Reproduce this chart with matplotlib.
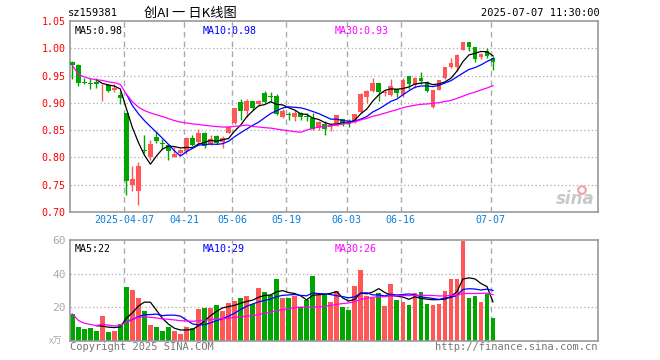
import matplotlib
matplotlib.use('Agg')
import matplotlib.pyplot as plt
import pandas as pd

# ---- data (index 0 = 2025-03-24 ... 70 = 2025-07-07) ----
opens = [0.974, 0.969, 0.938, 0.936, 0.938, 0.934, 0.933, 0.923, 0.914, 0.881,
         0.749, 0.738, 0.813, 0.800, 0.838, 0.827, 0.823, 0.801, 0.808, 0.811,
         0.836, 0.828, 0.845, 0.825, 0.839, 0.828, 0.845, 0.863, 0.902, 0.885,
         0.904, 0.897, 0.918, 0.912, 0.912, 0.874, 0.879, 0.875, 0.881, 0.876,
         0.872, 0.854, 0.862, 0.855, 0.858, 0.871, 0.865, 0.865, 0.883, 0.910,
         0.922, 0.936, 0.918, 0.915, 0.925, 0.917, 0.949, 0.932, 0.946, 0.939,
         0.892, 0.924, 0.945, 0.966, 0.966, 0.997, 1.011, 1.002, 0.984, 0.995,
         0.983]
highs = [0.977, 0.971, 0.946, 0.945, 0.945, 0.935, 0.934, 0.935, 0.921, 0.881,
         0.785, 0.792, 0.841, 0.832, 0.847, 0.834, 0.824, 0.820, 0.815, 0.837,
         0.841, 0.853, 0.846, 0.842, 0.841, 0.839, 0.856, 0.890, 0.907, 0.907,
         0.904, 0.906, 0.922, 0.919, 0.916, 0.888, 0.884, 0.886, 0.883, 0.882,
         0.882, 0.866, 0.866, 0.864, 0.878, 0.871, 0.871, 0.880, 0.918, 0.924,
         0.945, 0.937, 0.924, 0.943, 0.926, 0.945, 0.949, 0.948, 0.957, 0.940,
         0.924, 0.942, 0.965, 0.983, 0.990, 1.012, 1.012, 1.003, 0.991, 1.001,
         0.985]
lows = [0.944, 0.931, 0.934, 0.925, 0.927, 0.904, 0.920, 0.920, 0.898, 0.732,
        0.738, 0.712, 0.809, 0.795, 0.827, 0.816, 0.796, 0.800, 0.805, 0.806,
        0.821, 0.822, 0.818, 0.822, 0.825, 0.818, 0.844, 0.862, 0.869, 0.874,
        0.886, 0.894, 0.900, 0.901, 0.878, 0.872, 0.868, 0.866, 0.869, 0.866,
        0.851, 0.851, 0.842, 0.848, 0.857, 0.857, 0.855, 0.863, 0.882, 0.899,
        0.920, 0.904, 0.913, 0.912, 0.911, 0.911, 0.926, 0.928, 0.935, 0.919,
        0.890, 0.923, 0.943, 0.964, 0.958, 0.996, 0.995, 0.974, 0.980, 0.982,
        0.960]
closes = [0.969, 0.936, 0.937, 0.935, 0.935, 0.935, 0.922, 0.927, 0.908, 0.756,
          0.761, 0.785, 0.811, 0.825, 0.831, 0.825, 0.811, 0.807, 0.813, 0.836,
          0.822, 0.845, 0.821, 0.833, 0.827, 0.836, 0.856, 0.890, 0.885, 0.904,
          0.890, 0.904, 0.901, 0.911, 0.880, 0.885, 0.878, 0.881, 0.875, 0.875,
          0.852, 0.865, 0.852, 0.859, 0.878, 0.863, 0.862, 0.880, 0.917, 0.921,
          0.936, 0.920, 0.920, 0.931, 0.918, 0.942, 0.935, 0.946, 0.940, 0.922,
          0.924, 0.941, 0.965, 0.973, 0.988, 1.011, 1.002, 0.980, 0.990, 0.985,
          0.974]
volumes = [16.1, 8.4, 7.2, 7.7, 6.0, 15.0, 5.2, 6.0, 10.0, 31.8,
           30.5, 25.3, 18.0, 9.5, 8.3, 6.0, 8.3, 5.8, 4.2, 8.5,
           7.6, 19.2, 19.9, 19.9, 21.5, 18.0, 22.8, 23.9, 25.8, 27.0,
           21.9, 31.3, 29.3, 27.2, 36.6, 25.3, 25.5, 26.5, 20.3, 24.6,
           38.8, 27.5, 27.5, 23.3, 29.5, 20.0, 18.5, 32.4, 42.1, 27.0,
           25.8, 28.3, 20.9, 33.6, 24.5, 23.3, 21.5, 28.3, 29.0, 22.2,
           21.5, 22.0, 29.5, 36.7, 36.7, 59.2, 25.4, 26.5, 22.9, 27.7,
           13.8]
tick_idx = [9, 19, 27, 36, 46, 55, 70]
tick_labels = ['2025-04-07', '04-21', '05-06', '05-19', '06-03', '06-16', '07-07']
price_ticks = [0.70, 0.75, 0.80, 0.85, 0.90, 0.95, 1.00, 1.05]
vol_ticks = [20, 40, 60]

RED = '#FF5757'
GREEN = '#00A600'
GRID = '#AAAAAA'
FRAME = '#999999'
MONO = 'DejaVu Sans Mono'
CJK = ['Noto Sans CJK SC', 'DejaVu Sans']

n = len(closes)
xs = list(range(n))
up = [c >= o for o, c in zip(opens, closes)]
colors = [RED if u else GREEN for u in up]

s_close = pd.Series(closes)
ma5 = s_close.rolling(5).mean()
ma10 = s_close.rolling(10).mean()
ma30 = s_close.rolling(30, min_periods=1).mean()
s_vol = pd.Series(volumes)
vma5 = s_vol.rolling(5).mean()
vma10 = s_vol.rolling(10).mean()
vma30 = s_vol.rolling(30, min_periods=1).mean()

W, H = 660, 360
fig = plt.figure(figsize=(6.6, 3.6), dpi=100)
fig.patch.set_facecolor('white')


def rect(l, t, r, b):
    return [l / W, 1 - b / H, (r - l) / W, (b - t) / H]


ax = fig.add_axes(rect(70, 21, 598, 212))
axv = fig.add_axes(rect(70, 240, 598, 341))
XL = (-0.38, 87.47)
grid_x = [t - 0.37 for t in tick_idx]

for a in (ax, axv):
    a.set_xlim(*XL)
    for sp in a.spines.values():
        sp.set_color(FRAME)
        sp.set_linewidth(1.2)
    a.tick_params(length=0)
    for gx in grid_x:
        a.axvline(gx, color=GRID, lw=1.0, ls=(0, (4, 3)), zorder=0)

# ---- price panel ----
ax.set_ylim(0.70, 1.05)
for p in price_ticks[1:-1]:
    ax.axhline(p, color=GRID, lw=0.9, ls=(0, (1, 2)), zorder=0)
ax.set_yticks(price_ticks)
ax.set_yticklabels(['%.2f' % p for p in price_ticks], color='#FF0000',
                   family=MONO, fontsize=7.2)
ax.tick_params(axis='y', pad=3)
ax.set_xticks(grid_x)
ax.set_xticklabels(tick_labels, color='#0A7FD8', family=MONO, fontsize=7.2)
ax.tick_params(axis='x', pad=2)

ax.vlines(xs, lows, highs, colors=colors, lw=1.0, zorder=2)
bottoms = [min(o, c) for o, c in zip(opens, closes)]
heights = [max(abs(c - o), 0.0012) for o, c in zip(opens, closes)]
ax.bar(xs, heights, bottom=bottoms, width=0.78, color=colors, lw=0, zorder=3)

ax.plot(xs, ma5, color='black', lw=0.9, zorder=4)
ax.plot(xs, ma10, color='#0000FF', lw=0.9, zorder=4)
ax.plot(xs, ma30, color='#FF00FF', lw=0.9, zorder=4)

ax.text(74 / 528 * 0 + 0.008, 0.975, 'MA5:0.98', transform=ax.transAxes,
        color='black', family=MONO, fontsize=7.2, va='top', ha='left')
ax.text((203 - 70) / 528, 0.975, 'MA10:0.98', transform=ax.transAxes,
        color='#0000FF', family=MONO, fontsize=7.2, va='top', ha='left')
ax.text((335 - 70) / 528, 0.975, 'MA30:0.93', transform=ax.transAxes,
        color='#FF00FF', family=MONO, fontsize=7.2, va='top', ha='left')

# sina watermark
ax.text((598 - 70 - 3) / 528, 0.02, 'sina', transform=ax.transAxes,
        color='#C8C8C8', fontsize=12, fontweight='bold', style='italic',
        ha='right', va='bottom', zorder=1)
ax.scatter([(582 - 70) / 528], [0.115], transform=ax.transAxes, s=30,
           facecolors='none', edgecolors='#F0A0A0', lw=1.5, zorder=1)

# ---- volume panel ----
axv.set_ylim(0, 60)
for v in vol_ticks[:-1]:
    axv.axhline(v, color=GRID, lw=0.9, ls=(0, (1, 2)), zorder=0)
axv.set_yticks(vol_ticks)
axv.set_yticklabels([str(v) for v in vol_ticks], color='#AAAAAA',
                    family=MONO, fontsize=8)
axv.tick_params(axis='y', pad=3)
axv.set_xticks([])
axv.bar(xs, volumes, width=0.78, color=colors, lw=0, zorder=2)
axv.plot(xs, vma5, color='black', lw=0.9, zorder=3)
axv.plot(xs, vma10, color='#0000FF', lw=0.9, zorder=3)
axv.plot(xs, vma30, color='#FF00FF', lw=0.9, zorder=3)
axv.text(0.008, 0.96, 'MA5:22', transform=axv.transAxes, color='black',
         family=MONO, fontsize=7.2, va='top', ha='left')
axv.text((203 - 70) / 528, 0.96, 'MA10:29', transform=axv.transAxes,
         color='#0000FF', family=MONO, fontsize=7.2, va='top', ha='left')
axv.text((335 - 70) / 528, 0.96, 'MA30:26', transform=axv.transAxes,
         color='#FF00FF', family=MONO, fontsize=7.2, va='top', ha='left')

# ---- header / footer ----
fig.text(68 / W, 1 - 13 / H, 'sz159381', family=MONO, fontsize=7.5,
         color='black', va='center', ha='left')
fig.text(190 / W, 1 - 13 / H, '创AI 一 日K线图', family=CJK, fontsize=9.5,
         color='black', va='center', ha='center')
fig.text(600 / W, 1 - 13 / H, '2025-07-07 11:30:00', family=MONO,
         fontsize=7.5, color='black', va='center', ha='right')
fig.text(70 / W, 1 - 347 / H, 'Copyright 2025 SINA.COM', family=MONO,
         fontsize=7.5, color='#777777', va='center', ha='left')
fig.text(597 / W, 1 - 347 / H, 'http://finance.sina.com.cn', family=MONO,
         fontsize=7.5, color='#777777', va='center', ha='right')
fig.text(56 / W, 1 - 341 / H, 'x万', family=CJK, fontsize=6.5,
         color='#AAAAAA', va='center', ha='center')

fig.savefig('out.png', dpi=100)
